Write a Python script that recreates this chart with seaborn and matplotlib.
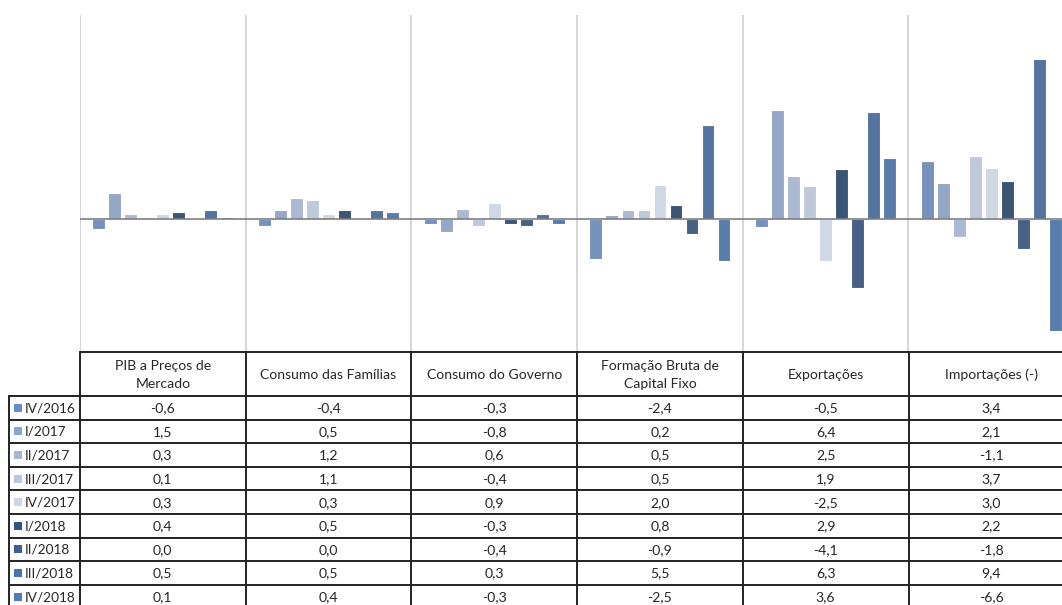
import numpy as np
import pandas as pd
import matplotlib
matplotlib.use("Agg")
import matplotlib.pyplot as plt
import seaborn as sns

# Contributions by component and quarter (p.p.)
categorias = ["PIB a Preços de\nMercado", "Consumo das Famílias", "Consumo do Governo",
              "Formação Bruta de\nCapital Fixo", "Exportações", "Importações (-)"]
periodos = ["IV/2016", "I/2017", "II/2017", "III/2017", "IV/2017",
            "I/2018", "II/2018", "III/2018", "IV/2018"]
pib = [-0.6, 1.5, 0.3, 0.1, 0.3, 0.4, 0.0, 0.5, 0.1]
consumo_familias = [-0.4, 0.5, 1.2, 1.1, 0.3, 0.5, 0.0, 0.5, 0.4]
consumo_governo = [-0.3, -0.8, 0.6, -0.4, 0.9, -0.3, -0.4, 0.3, -0.3]
fbcf = [-2.4, 0.2, 0.5, 0.5, 2.0, 0.8, -0.9, 5.5, -2.5]
exportacoes = [-0.5, 6.4, 2.5, 1.9, -2.5, 2.9, -4.1, 6.3, 3.6]
importacoes = [3.4, 2.1, -1.1, 3.7, 3.0, 2.2, -1.8, 9.4, -6.6]
cores = ["#6A8EC7", "#8CA5CE", "#A6B7D8", "#BBC7E0", "#CDD6E8",
         "#31547F", "#3B5F8F", "#4673AA", "#4B7BB8"]

series = [pib, consumo_familias, consumo_governo, fbcf, exportacoes, importacoes]
df = pd.DataFrame(
    [(cat, per, val) for cat, vals in zip(categorias, series) for per, val in zip(periodos, vals)],
    columns=["categoria", "periodo", "valor"],
)

sns.set_theme(style="white")
plt.rcParams["font.family"] = ["Lato", "DejaVu Sans"]

W, H = 1062, 605
fig = plt.figure(figsize=(W / 100, H / 100), dpi=100)

# Chart area: six category slots, the last one running past the right edge
x0, slot = 80, 165.7
top_px, bottom_px = 15, 352
ax = fig.add_axes([x0 / W, 1 - bottom_px / H, 6 * slot / W, (bottom_px - top_px) / H])
sns.barplot(data=df, x="categoria", y="valor", hue="periodo", hue_order=periodos,
            order=categorias, palette=cores, width=0.87, gap=0.2, errorbar=None,
            edgecolor="white", linewidth=0.8, legend=False, ax=ax)
ax.set_xlim(-0.5, 5.5)
ax.set_ylim(-7.85, 12.0)
for i in range(7):
    ax.axvline(i - 0.5, color="#D3D3D3", lw=1.3, zorder=0)
ax.axhline(0, color="#7F7F7F", lw=1.2, zorder=3)
ax.set_xlabel("")
ax.set_ylabel("")
ax.set_xticks([])
ax.set_yticks([])
for s in ax.spines.values():
    s.set_visible(False)

# Data table below the chart, drawn in pixel coordinates
tb = fig.add_axes([0, 0, 1, 1])
tb.set_xlim(0, W)
tb.set_ylim(H, 0)
tb.axis("off")
tb.patch.set_alpha(0)

txt = "#262626"
line = "#222222"
lw = 1.4
fs = 10.1
head_top, head_bot, row_h = 352, 396, 23.6
col_x = [x0 + i * slot for i in range(7)]
leg_left = 9
n = len(periodos)
tab_bottom = head_bot + n * row_h

# header box
tb.plot([x0, col_x[-1]], [head_top, head_top], color=line, lw=lw)
tb.plot([leg_left, col_x[-1]], [head_bot, head_bot], color=line, lw=lw)
for cx in col_x:
    tb.plot([cx, cx], [head_top, tab_bottom], color=line, lw=lw)
tb.plot([leg_left, leg_left], [head_bot, tab_bottom], color=line, lw=lw)
for r in range(1, n + 1):
    y = head_bot + r * row_h
    tb.plot([leg_left, col_x[-1]], [y, y], color=line, lw=lw)

for j, cat in enumerate(categorias):
    cx = (col_x[j] + col_x[j + 1]) / 2
    tb.text(cx, (head_top + head_bot) / 2 + 1, cat, ha="center", va="center",
            fontsize=fs, color=txt, linespacing=1.5)

for r, per in enumerate(periodos):
    yc = head_bot + (r + 0.5) * row_h
    tb.add_patch(plt.Rectangle((14, yc - 4), 8, 8, color=cores[r], lw=0))
    tb.text(24.5, yc + 0.5, per, ha="left", va="center", fontsize=9.8, color=txt)
    for j, vals in enumerate(series):
        cx = (col_x[j] + col_x[j + 1]) / 2
        tb.text(cx, yc + 0.5, f"{vals[r]:.1f}".replace(".", ","), ha="center", va="center",
                fontsize=fs, color=txt)

fig.savefig("out.png", dpi=100, facecolor="white")
